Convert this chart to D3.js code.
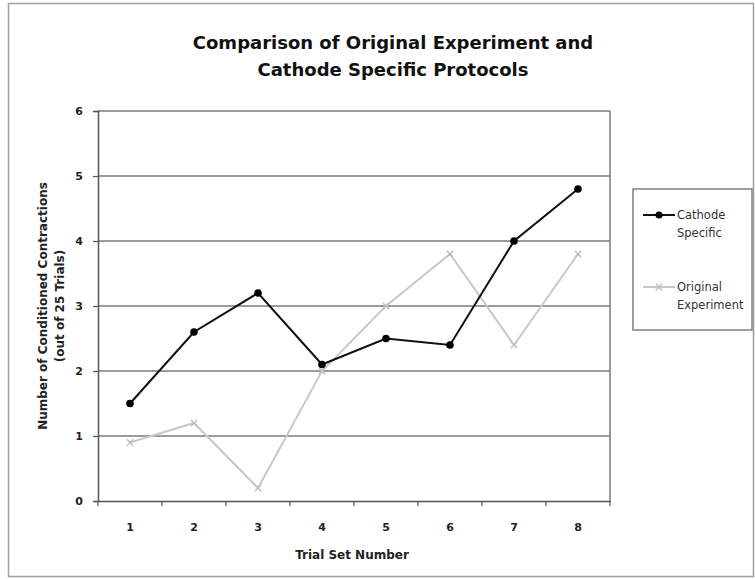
<!DOCTYPE html>
<html><head><meta charset="utf-8">
<script src="https://cdn.jsdelivr.net/npm/d3@7"></script>
<style>body{margin:0;background:#fff}svg{display:block}text{font-family:"DejaVu Sans",Arial,sans-serif}</style>
</head><body><svg id="c" width="755" height="579"></svg>
<script>
const categories = ["1","2","3","4","5","6","7","8"];
const cathodeSpecific = [1.5, 2.6, 3.2, 2.1, 2.5, 2.4, 4.0, 4.8];
const originalExperiment = [0.9, 1.2, 0.2, 2.0, 3.0, 3.8, 2.4, 3.8];
const yTicks = [0,1,2,3,4,5,6];
const titleLines = ["Comparison of Original Experiment and","Cathode Specific Protocols"];
const yTitleLines = ["Number of Conditioned Contractions","(out of 25 Trials)"];
const xTitle = "Trial Set Number";
const seriesNames = [["Cathode","Specific"],["Original","Experiment"]];

const FONT = "'DejaVu Sans',Arial,sans-serif";
const svg = d3.select("#c");
svg.append("rect").attr("x",8.5).attr("y",3.5).attr("width",745).attr("height",573)
  .attr("fill","#fff").attr("stroke","#a0a0a0").attr("stroke-width",1.5);

const L=98, R=610, T=111, B=501;
const x = d3.scaleBand().domain(categories).range([L,R]);
const y = d3.scaleLinear().domain([0,6]).range([B,T]);

// gridlines
svg.append("g").selectAll("line").data(yTicks.filter(d=>d>0)).join("line")
  .attr("x1",L).attr("x2",R).attr("y1",d=>y(d)).attr("y2",d=>y(d))
  .attr("stroke","#7a7a7a").attr("stroke-width",1.5);
// right border
svg.append("line").attr("x1",R).attr("x2",R).attr("y1",T).attr("y2",B).attr("stroke","#7a7a7a").attr("stroke-width",1.5);

// axes
const yAxis = svg.append("g").attr("transform",`translate(${L},0)`)
  .call(d3.axisLeft(y).tickValues(yTicks).tickSize(5).tickPadding(10).tickFormat(d3.format("d")));
const xAxis = svg.append("g").attr("transform",`translate(0,${B})`)
  .call(d3.axisBottom(x).tickSize(0).tickPadding(22));
[yAxis,xAxis].forEach(a=>{
  a.select(".domain").attr("stroke","#555").attr("stroke-width",1.5);
  a.selectAll(".tick line").attr("stroke","#555").attr("stroke-width",1.2);
  a.selectAll("text").attr("font-size",11).attr("font-weight","bold").attr("fill","#222")
   .style("font-family",FONT);
});
// x boundary ticks
svg.append("g").selectAll("line").data(categories).join("line")
  .attr("x1",d=>x(d)+x.bandwidth()).attr("x2",d=>x(d)+x.bandwidth())
  .attr("y1",B).attr("y2",B+5).attr("stroke","#555").attr("stroke-width",1.2);
svg.append("line").attr("x1",L).attr("x2",L).attr("y1",B).attr("y2",B+5).attr("stroke","#555").attr("stroke-width",1.2);

// series
const cx = (d,i)=>x(categories[i])+x.bandwidth()/2;
const line = d3.line().x(cx).y(d=>y(d));
svg.append("path").datum(originalExperiment).attr("d",line).attr("fill","none")
  .attr("stroke","#c8c8c8").attr("stroke-width",2);
svg.append("g").selectAll("path").data(originalExperiment).join("path")
  .attr("transform",(d,i)=>`translate(${cx(d,i)},${y(d)})`)
  .attr("d",d3.symbol(d3.symbolX,28)()).attr("stroke","#c0c0c0").attr("stroke-width",1.5).attr("fill","none");
svg.append("path").datum(cathodeSpecific).attr("d",line).attr("fill","none")
  .attr("stroke","#111").attr("stroke-width",2);
svg.append("g").selectAll("circle").data(cathodeSpecific).join("circle")
  .attr("cx",cx).attr("cy",d=>y(d)).attr("r",3.8).attr("fill","#000");

// title
svg.append("text").attr("text-anchor","middle").attr("font-size",18).attr("font-weight","bold").attr("fill","#111")
  .selectAll("tspan").data(titleLines).join("tspan").attr("x",393).attr("y",(d,i)=>49+i*27).text(d=>d);
// y title
svg.append("text").attr("transform","translate(47,306) rotate(-90)").attr("text-anchor","middle")
  .attr("font-size",12).attr("font-weight","bold").attr("fill","#222")
  .selectAll("tspan").data(yTitleLines).join("tspan").attr("x",0).attr("y",(d,i)=>i*17).text(d=>d);
// x title
svg.append("text").attr("x",352).attr("y",559).attr("text-anchor","middle").attr("font-size",12).attr("font-weight","bold").attr("fill","#222").text(xTitle);

// legend
svg.append("rect").attr("x",633).attr("y",189).attr("width",119).attr("height",141)
  .attr("fill","#fff").attr("stroke","#808080").attr("stroke-width",1.5);
const leg = [{y:215,color:"#111",sym:"c"},{y:287,color:"#c8c8c8",sym:"x"}];
leg.forEach((l,i)=>{
  svg.append("line").attr("x1",643).attr("x2",675).attr("y1",l.y).attr("y2",l.y).attr("stroke",l.color).attr("stroke-width",2);
  if(l.sym==="c") svg.append("circle").attr("cx",659).attr("cy",l.y).attr("r",3.5).attr("fill","#000");
  else svg.append("path").attr("transform",`translate(659,${l.y})`).attr("d",d3.symbol(d3.symbolX,28)()).attr("stroke","#c0c0c0").attr("stroke-width",1.5);
  svg.append("text").attr("font-size",11.5).attr("fill","#333")
    .selectAll("tspan").data(seriesNames[i]).join("tspan").attr("x",677).attr("y",(d,j)=>l.y+4+j*18).text(d=>d);
});
</script></body></html>
